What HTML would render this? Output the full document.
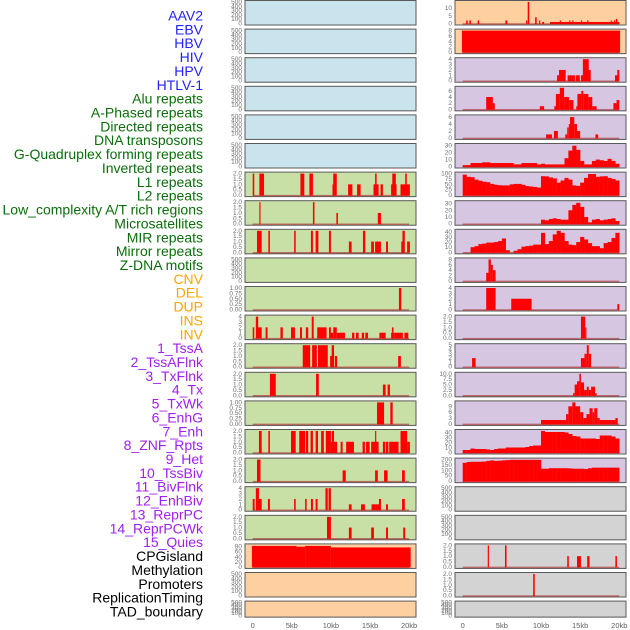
<!DOCTYPE html>
<html><head><meta charset="utf-8">
<style>
html,body{margin:0;padding:0;background:#fff;}
svg{display:block;font-family:"Liberation Sans",sans-serif;}
</style></head>
<body>
<svg id="chart" width="630" height="630" viewBox="0 0 630 630"></svg>
<script>
// ---------- labels ----------
const labelNames = ["AAV2","EBV","HBV","HIV","HPV","HTLV-1","Alu repeats","A-Phased repeats","Directed repeats","DNA transposons","G-Quadruplex forming repeats","Inverted repeats","L1 repeats","L2 repeats","Low_complexity A/T rich regions","Microsatellites","MIR repeats","Mirror repeats","Z-DNA motifs","CNV","DEL","DUP","INS","INV","1_TssA","2_TssAFlnk","3_TxFlnk","4_Tx","5_TxWk","6_EnhG","7_Enh","8_ZNF_Rpts","9_Het","10_TssBiv","11_BivFlnk","12_EnhBiv","13_ReprPC","14_ReprPCWk","15_Quies","CPGisland","Methylation","Promoters","ReplicationTiming","TAD_boundary"];
const labelGroups = [0,0,0,0,0,0,1,1,1,1,1,1,1,1,1,1,1,1,1,2,2,2,2,2,3,3,3,3,3,3,3,3,3,3,3,3,3,3,3,4,4,4,4,4];
const groupColors = ["#2222ff","#0a6e0a","#ffa500","#a020f0","#000000"];

// ---------- x axis ----------
const xTickValues = [0,5,10,15,20];
const xTickLabels = ["0","5kb","10kb","15kb","20kb"];

// ---------- panel backgrounds ----------
const leftBg = ["b","b","b","b","b","b","g","g","g","g","g","g","g","g","g","g","g","g","g","o","o","o"];
const rightBg = ["o","o","p","p","p","p","p","p","p","p","p","p","p","p","p","p","p","y","y","y","y","y"];

// ---------- y maxima / ticks ----------
const leftMax = [500,500,500,500,500,500,2,2,2,500,1,4,2,2,1,2,2,4,2,85,500,500];
const rightMax = [14,8,4,7,6.2,31,100,32,42,8,4,2,5,10,11,43,200,500,500,2,2,500];
const leftTicks = [
 [0,100,200,300,400,500],[0,100,200,300,400,500],[0,100,200,300,400,500],[0,100,200,300,400,500],[0,100,200,300,400,500],[0,100,200,300,400,500],
 [0,0.5,1,1.5,2],[0,0.5,1,1.5,2],[0,0.5,1,1.5,2],[0,100,200,300,400,500],[0,0.25,0.5,0.75,1],[0,1,2,3,4],[0,0.5,1,1.5,2],[0,0.5,1,1.5,2],[0,0.25,0.5,0.75,1],[0,0.5,1,1.5,2],[0,0.5,1,1.5,2],[0,1,2,3,4],[0,0.5,1,1.5,2],[0,20,40,60,80],[0,100,200,300,400,500],[0,100,200,300,400,500]];
const rightTicks = [
 [0,5,10],[0,2,4,6,8],[0,1,2,3,4],[0,2,4,6],[0,2,4,6],[0,10,20,30],[0,25,50,75,100],[0,10,20,30],[0,10,20,30,40],[0,2,4,6,8],[0,1,2,3,4],[0,0.5,1,1.5,2],[0,1,2,3,4,5],[0,2.5,5,7.5,10],[0,3,6,9],[0,10,20,30,40],[0,50,100,150,200],[0,100,200,300,400,500],[0,100,200,300,400,500],[0,0.5,1,1.5,2],[0,0.5,1,1.5,2],[0,100,200,300,400,500]];
const leftTickDec = [0,0,0,0,0,0,1,1,1,0,2,0,1,1,2,1,1,0,1,0,0,0];
const rightTickDec = [0,0,0,0,0,0,0,0,0,0,0,1,0,1,0,0,0,0,0,1,1,0];

// ---------- left column bars: [startKb, endKb, value] ----------
const L6 = [[0,0.2,2],[0.85,1.45,2],[6.1,6.6,2],[7.25,7.7,2],[10.2,10.4,1],[10.3,10.75,2],[12.2,12.75,1],[13.35,13.8,1],[15.45,16.1,1],[15.65,15.85,2],[16.35,16.65,1],[17.7,18.4,1],[17.85,18.3,2],[18.9,20.1,1],[19.5,19.7,2]];
const L7 = [[0.85,1.0,2],[7.7,7.9,2],[10.7,10.9,1],[16.0,16.4,1]];
const L8 = [[0.55,1.15,2],[2.0,2.2,2],[5.3,5.5,2],[7.45,7.7,2],[8.05,8.4,2],[9.75,10.0,2],[12.3,12.65,1],[14.1,14.4,2],[15.15,15.5,1],[15.65,16.4,1],[17.05,17.3,1],[19.0,19.4,1],[19.15,19.45,2],[19.75,20.1,1]];
const L10 = [[18.7,19.0,1]];
const L11 = [[0,0.2,2],[0.4,0.7,4],[0.6,1.15,2],[1.65,1.9,2],[3.55,3.85,2],[4.9,5.4,2],[6.05,6.3,2],[6.8,7.1,2],[7.55,7.8,4],[8.25,9.45,2],[9.75,10.0,2],[10.0,10.3,1],[10.3,10.75,2],[10.75,11.8,1],[12.7,13.0,1],[13.2,13.55,1],[13.95,14.25,1],[14.4,14.75,1],[16.2,17.0,1],[17.7,18.1,1],[17.8,18.0,2],[18.1,19.2,1],[19.4,19.9,1]];
const L12 = [[6.4,7.35,2],[7.6,8.2,2],[8.35,9.6,2],[9.9,10.35,1],[10.1,10.4,2],[10.5,10.8,1],[18.6,18.95,1]];
const L13 = [[2.2,2.95,2],[8.1,8.45,2],[16.65,17.0,1],[17.25,17.55,1]];
const L14 = [[15.9,16.8,1],[17.6,17.9,1]];
const L15 = [[0.8,1.15,2],[2.0,2.2,2],[4.9,5.5,2],[5.95,6.7,2],[6.8,7.1,2],[7.4,7.7,2],[8.05,8.35,2],[8.75,9.1,2],[9.35,10.0,2],[10.0,10.8,1],[10.1,10.4,2],[11.25,11.5,1],[11.95,12.95,1],[14.05,14.35,1],[14.5,14.95,1],[15.15,16.1,1],[15.65,15.8,2],[16.65,16.95,1],[17.05,17.35,1],[17.45,18.65,1],[18.9,19.75,2],[19.75,20.1,1]];
const L16 = [[0.55,1.0,2],[11.5,11.9,1],[15.65,16.0,1],[16.8,17.25,1],[19.1,19.45,1]];
const L17 = [[0,0.25,2],[0.4,0.8,4],[0.5,1.15,2],[1.95,2.2,2],[5.3,5.5,2],[6.7,6.9,2],[7.45,7.7,2],[8.05,8.3,2],[9.3,9.6,4],[9.7,10.0,4],[12.3,12.65,1],[13.85,14.35,1],[15.2,15.65,1],[15.65,16.35,1],[16.15,16.4,2],[17.05,17.3,1],[19.1,19.45,2]];
const L18 = [[9.5,10.0,2],[12.3,12.65,1],[15.15,15.5,1],[17.05,17.3,1],[19.25,19.5,1]];
const L19 = [[-0.1,5.6,83],[5.6,6.7,80],[6.7,10.0,83],[10.0,20.2,77]];

// ---------- right column bars ----------
const R0 = [[0.45,0.65,2],[0.85,1.05,2],[1.9,2.1,2],[5.45,5.7,2],[8.1,8.25,2],[8.3,8.5,14],[9.25,9.45,4],[9.75,9.9,2],[10.15,10.4,1],[11.15,20.0,1],[12.4,12.55,2],[13.6,13.75,2],[14.0,14.15,2],[15.1,15.25,2],[15.9,16.05,2],[18.9,19.05,2],[19.3,19.45,2],[19.55,19.75,3]];
const R1 = [[-0.1,20.1,8]];
const R2 = [[12.05,12.3,1],[12.3,13.15,2],[13.4,14.35,1],[14.45,14.95,1],[15.1,15.4,1],[15.35,16.1,4],[16.05,16.35,2],[19.45,19.8,1],[19.75,20.0,2]];
const R3 = [[3.0,3.85,4],[3.85,4.1,2],[9.85,10.4,1],[11.7,12.0,1],[11.9,12.4,5],[12.4,12.95,7],[12.95,13.6,4],[13.6,14.15,3],[14.5,14.65,1],[14.65,15.15,5],[15.15,15.4,6],[15.4,16.05,5],[16.05,16.55,4],[16.55,17.1,1],[19.25,19.65,2],[19.65,20.0,3]];
const R4 = [[10.65,11.4,1],[11.65,12.15,2],[13.1,13.35,1],[13.35,13.55,3],[13.55,13.7,4],[13.7,14.25,6],[14.25,14.6,4],[14.6,15.0,2],[16.95,17.3,1]];
const R9 = [[3.0,3.3,3],[3.3,3.6,8],[3.6,3.85,6],[3.85,4.2,4]];
const R10 = [[3.0,4.2,4],[6.2,8.8,2],[19.75,20.0,1]];
const R11 = [[15.1,15.65,2],[15.65,15.8,1]];
const R12 = [[1.2,1.65,2],[15.1,15.55,2],[15.55,15.85,3],[15.85,16.1,5],[16.1,16.4,3]];
const R13 = [[14.1,14.3,1],[14.3,14.6,5],[14.6,14.9,6.5],[14.9,15.1,10],[15.1,15.5,6],[15.5,15.85,2.5],[15.85,16.1,4],[16.1,16.4,2.5],[16.4,16.9,4],[16.9,17.1,1]];
const R14 = [[10.0,13.2,2],[13.2,13.5,5],[13.5,14.0,9],[14.0,14.4,11],[14.4,15.0,9],[15.0,15.4,6],[15.4,15.8,3],[15.8,16.2,5],[16.2,16.6,8],[16.6,16.8,6],[16.8,17.2,8],[17.2,17.5,3],[17.5,19.5,2],[19.5,19.8,3]];
const R19 = [[3.2,3.35,2],[5.4,5.6,2],[13.35,13.55,1],[14.6,15.1,1],[15.9,16.2,1],[19.5,19.7,1]];
const R20 = [[9.0,9.2,2]];

// ---------- right column profiles (0.5 kb bins from 0 to 20 kb) ----------
const R5 = [2,2,5,5,5,6,6,5,5,5,5,5,5,3,3,5,5,5,5,3,4,3,3,3,3,3,12,23,30,24,8,3,3,8,10,9,8,11,8,4];
const R6 = [95,85,83,72,67,62,60,52,48,46,45,45,50,52,52,48,42,40,38,35,88,87,82,78,58,68,80,72,45,43,58,80,98,98,85,87,88,80,75,68];
const R7 = [0,0,0,0,0,0,0,0,0,0,0,0,0,0,0,0,0,0,0,0,6,5,7,8,7,6,6,20,28,31,25,10,2,6,7,5,6,7,8,4];
const R8 = [0,0,10,12,16,17,19,19,20,22,27,4,0,3,6,11,12,13,15,15,38,16,22,35,42,38,22,15,14,20,30,25,18,12,12,8,18,20,28,38];
const R15 = [5,5,8,7,7,7,6,5,7,8,8,10,10,10,10,10,11,13,14,14,43,41,41,41,41,41,40,37,33,32,28,28,28,28,27,34,34,34,32,28];
const R16 = [170,178,180,180,180,182,188,192,188,190,193,195,198,198,198,198,198,198,198,198,115,115,120,120,120,120,120,118,115,115,115,112,120,125,125,125,125,125,125,125];

const leftBars = [null,null,null,null,null,null,L6,L7,L8,null,L10,L11,L12,L13,L14,L15,L16,L17,L18,L19,null,null];
const rightBars = [R0,R1,R2,R3,R4,null,null,null,null,R9,R10,R11,R12,R13,R14,null,null,null,null,R19,R20,null];
const rightProfiles = [null,null,null,null,null,R5,R6,R7,R8,null,null,null,null,null,null,R15,R16,null,null,null,null,null];

// ---------- drawing ----------
const NS = "http://www.w3.org/2000/svg";
const svg = document.getElementById("chart");
const bgColor = {b:"#c9e4ec", g:"#c8e0a5", o:"#fed0a0", p:"#d6c6e2", y:"#d3d3d3"};
const cols = [
  {x0:245, x1:416, z0:252.7, kpx:7.82, bars:leftBars, prof:null, bg:leftBg, max:leftMax, ticks:leftTicks, dec:leftTickDec, name:"left"},
  {x0:455, x1:626, z0:462.7, kpx:7.83, bars:rightBars, prof:rightProfiles, bg:rightBg, max:rightMax, ticks:rightTicks, dec:rightTickDec, name:"right"}
];
function rowTop(i){ return 0.5 + 28.6*i; }
function rowH(i){ return i === 21 ? 16 : 24.5; }
function el(tag, attrs, parent){ const e = document.createElementNS(NS, tag); for (const k in attrs) e.setAttribute(k, attrs[k]); (parent||svg).appendChild(e); return e; }

// labels
labelNames.forEach((t, i) => {
  const tx = el("text", {x:203, y:20.5 + 13.86*i, "text-anchor":"end", "font-size":"14", fill:groupColors[labelGroups[i]]});
  tx.textContent = t;
  
  
});

cols.forEach(c => {
  const xs = kb => c.z0 + kb*c.kpx;
  for (let i = 0; i < 22; i++) {
    const top = rowTop(i), h = rowH(i), bot = top + h;
    const ys = v => bot - 1.5 - v / c.max[i] * (h - 3);
    const g = el("g", {});
    
    
    el("rect", {x:c.x0+0.5, y:top+0.5, width:c.x1-c.x0, height:h, fill:"#9a9a9a", opacity:"0.6"}, g);
    const bg = el("rect", {x:c.x0, y:top, width:c.x1-c.x0, height:h, fill:bgColor[c.bg[i]], stroke:"#5a5a5a", "stroke-width":"1"}, g);
    
    
    const hasData = c.bars[i] || (c.prof && c.prof[i]);
    if (hasData) {
      el("line", {x1:xs(0), x2:xs(20), y1:ys(0)+0.5, y2:ys(0)+0.5, stroke:"#b04040", "stroke-width":"1.5", opacity:"0.7"}, g);
    }
    if (c.bars[i]) {
      c.bars[i].forEach(b => {
        const r = el("rect", {x:xs(b[0]), y:ys(b[2]), width:Math.max(0.8, xs(b[1])-xs(b[0])), height:ys(0)-ys(b[2])+0.5, fill:"#ff0000"}, g);
        
        
      });
    }
    if (c.prof && c.prof[i]) {
      c.prof[i].forEach((v, k) => {
        if (v <= 0) return;
        const r = el("rect", {x:xs(k*0.5), y:ys(v), width:xs(0.5)-xs(0)+0.2, height:ys(0)-ys(v)+0.5, fill:"#ff0000"}, g);
        
        
      });
    }
    c.ticks[i].forEach(t => {
      const tl = el("text", {x:c.x0-3, y:ys(t)+2, "text-anchor":"end", "font-size":"6.5", fill:"#707070"}, g);
      tl.textContent = t.toFixed(c.dec[i]);
      
      
    });
  }
  xTickValues.forEach((v, k) => {
    const tl = el("text", {x:xs(v), y:628, "text-anchor":"middle", "font-size":"7.5", fill:"#606060"});
    tl.textContent = xTickLabels[k];
    
    
  });
});
</script>
</body></html>
